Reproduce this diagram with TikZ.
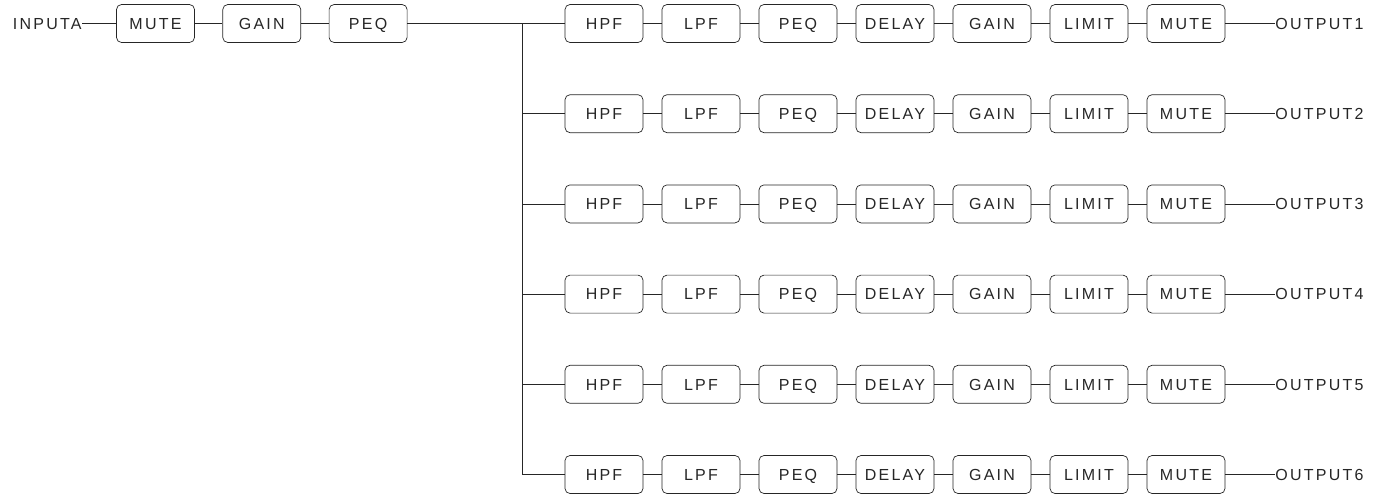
\documentclass[tikz,border=0pt]{standalone}
\usepackage{fontspec}
\setmainfont{Liberation Sans}[LetterSpace=14]

\tikzset{
  blk/.style={draw, rounded corners=5pt, minimum width=78pt, minimum height=38pt,
    inner sep=0pt, text height=11.5pt, text depth=0pt, font=\fontsize{16}{18}\selectfont},
  lbl/.style={inner sep=0pt, text height=11.5pt, text depth=0pt, font=\fontsize{16}{18}\selectfont},
  wire/.style={line width=0.7pt}
}

\begin{document}
\begin{tikzpicture}[x=1pt, y=-1pt, every path/.style={line width=0.7pt, black!85}]
    \useasboundingbox (0,0) rectangle (1389,496);

    % input chain
    \node[lbl, anchor=east] (inp) at (82,23.5) {INPUTA};
    \foreach \t [count=\k] in {MUTE,GAIN,PEQ}
      \node[blk] (in\k) at (49.2+106.3*\k, 23.5) {\t};
    \draw[wire] (inp) -- (in1);
    \draw[wire] (in1) -- (in2);
    \draw[wire] (in2) -- (in3);

    % output chains
    \foreach \r in {1,...,6}{
      \coordinate (j\r) at (522, 23.5+90.2*\r-90.2);
      \foreach \t [count=\k] in {HPF,LPF,PEQ,DELAY,GAIN,LIMIT,MUTE}
        \node[blk] (o\r-\k) at (507+97*\k, 23.5+90.2*\r-90.2) {\t};
      \node[lbl, anchor=west] (out\r) at (1275, 23.5+90.2*\r-90.2) {OUTPUT\r};
      \draw[wire] (j\r) -- (o\r-1);
      \foreach \k [remember=\k as \p (initially 1)] in {2,...,7}
        \draw[wire] (o\r-\p) -- (o\r-\k);
      \draw[wire] (o\r-7) -- (out\r);
    }

    % splitter
    \draw[wire] (in3) -- (j1);
    \draw[wire] (j1) -- (j6);
\end{tikzpicture}
\end{document}
